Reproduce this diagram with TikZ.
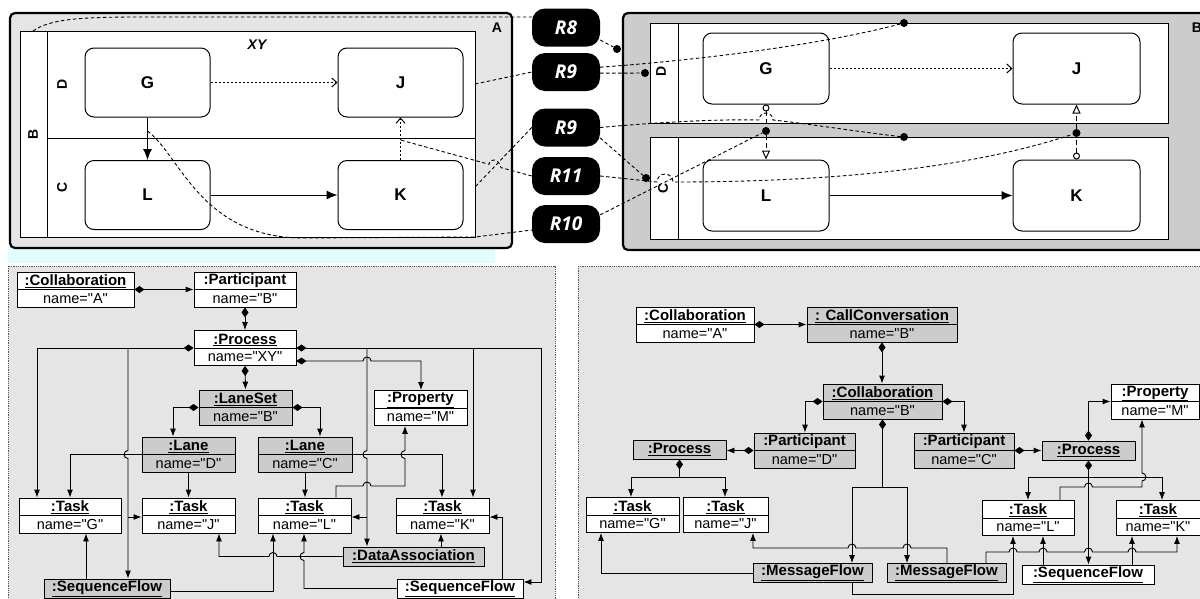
\documentclass[tikz,border=0pt]{standalone}
\usepackage{fontspec}
\setmainfont{Liberation Sans}[Ligatures=TeXOff]
\newfontfamily\rfont{Open Sans}
\usetikzlibrary{arrows.meta,calc}
\definecolor{poolA}{gray}{0.9}
\definecolor{poolB}{gray}{0.8}
\definecolor{og}{gray}{0.8}
\definecolor{panelbg}{gray}{0.9}
\definecolor{cy}{RGB}{224,252,252}
\tikzset{
  pool/.style={draw=black, line width=2.2pt, rounded corners=5pt},
  lane/.style={draw=black, line width=0.9pt, fill=white},
  ln/.style={line width=0.9pt},
  task/.style={draw, line width=1pt, rounded corners=9pt, fill=white, inner sep=0pt, font=\fontsize{17}{19}\selectfont\bfseries},
  rl/.style={fill=black, rounded corners=13pt, minimum width=68pt, minimum height=38pt, inner sep=0pt, text=white, font=\rfont\fontsize{19}{22}\selectfont\bfseries\itshape},
  lbl/.style={inner sep=0pt, font=\fontsize{14}{16}\selectfont\bfseries},
  dl/.style={dash pattern=on 3.5pt off 2.5pt, line width=0.9pt},
  dotn/.style={circle, fill=black, inner sep=0pt, minimum size=8pt},
  seqs/.style={line width=1pt, -{Latex[length=11pt,width=9pt]}},
  dotf/.style={dash pattern=on 2pt off 2pt, line width=1pt, -{Straight Barb[length=5pt,width=9pt]}},
  msg/.style={dash pattern=on 5pt off 3pt, line width=1pt, {Circle[open,length=7pt,width=7pt]}-{Triangle[open,length=9pt,width=8pt]}},
  comp/.style={line width=0.9pt, {Diamond[length=10pt,width=7pt]}-{Latex[length=8pt,width=6pt]}},
  dia/.style={line width=0.9pt, {Diamond[length=10pt,width=7pt]}-},
  arr/.style={line width=0.9pt, -{Latex[length=8pt,width=6pt]}},
  objbox/.style={draw, line width=0.9pt, minimum height=35pt, inner sep=0pt},
  sbox/.style={draw, line width=0.9pt, minimum height=19pt, inner sep=0pt, font=\fontsize{15}{17}\selectfont\bfseries},
  hdr/.style={inner sep=0pt, font=\fontsize{15}{17}\selectfont\bfseries},
  att/.style={inner sep=0pt, font=\fontsize{14.5}{17}\selectfont},
  panel/.style={fill=panelbg, draw=black!65, densely dotted, line width=0.8pt}
}
\newcommand\uobj[7]{%
  \node[objbox, fill=#5, minimum width=#4pt] (#1) at (#2,#3) {};
  \draw[ln] (#1.west) -- (#1.east);
  \node[hdr, yshift=8pt] (#1h) at (#1.center) {\underline{#6}};
  \node[att, yshift=-8.6pt] (#1a) at (#1.center) {#7};
}
\newcommand\sobj[6]{%
  \node[sbox, fill=#5, minimum width=#4pt] (#1) at (#2,#3) {\underline{#6}};
}
\newcommand\hopright[2]{-- ({#1-4},#2) arc[start angle=180,end angle=360,radius=4]}
\newcommand\hopleft[2]{-- ({#1+4},#2) arc[start angle=0,end angle=-180,radius=4]}
\newcommand\hopup[2]{-- (#1,{#2+4}) arc[start angle=90,end angle=270,radius=4]}
\newcommand\hopdown[2]{-- (#1,{#2-4}) arc[start angle=270,end angle=90,radius=4]}
\newcommand\hopupr[2]{-- (#1,{#2+4}) arc[start angle=90,end angle=-90,radius=4]}
\begin{document}
\begin{tikzpicture}[x=1pt,y=-1pt]
\useasboundingbox (0,0) rectangle (1200,598);
\clip (0,0) rectangle (1200,598);
\fill[white] (0,0) rectangle (1200,598);

% ================= TOP LEFT POOL =================
\fill[cy] (8,246) rectangle (495,263);
\draw[pool, fill=poolA] (10,13) rectangle (512,248);
\draw[lane] (20,31) rectangle (475,237);
\draw[ln] (47,31) -- (47,237);
\draw[ln] (47,138) -- (475,138);
\node[lbl, rotate=90] (bB) at (33,134) {B};
\node[lbl, rotate=90] (bD) at (62,84) {D};
\node[lbl, rotate=90] (bC) at (62,187) {C};
\node[inner sep=0pt, font=\fontsize{14}{16}\selectfont\bfseries\itshape] (xy) at (257,45) {XY};
\node[lbl] (pa) at (497,28) {A};
\node[task, minimum width=125pt, minimum height=69pt] (G1) at (147.5,82.5) {G};
\node[task, minimum width=125pt, minimum height=69pt] (J1) at (400.5,82.5) {J};
\node[task, minimum width=125pt, minimum height=69pt] (L1) at (147.5,195) {L};
\node[task, minimum width=125pt, minimum height=69pt] (K1) at (400.5,195) {K};
\draw[dotf] (G1) -- (J1);
\draw[seqs] (G1.south) -- (L1.north);
\draw[seqs] (L1) -- (K1);
\draw[dotf] (K1.north) -- (J1.south);

% ================= TOP RIGHT POOL =================
\draw[pool, fill=poolB] (623,13) rectangle (1215,250);
\draw[lane] (650,23) rectangle (1168,123);
\draw[ln] (678,23) -- (678,123);
\draw[lane] (650,137) rectangle (1168,239);
\draw[ln] (678,137) -- (678,239);
\node[lbl, rotate=90] (rD) at (661,71) {D};
\node[lbl, rotate=90] (rC) at (663,188) {C};
\node[lbl] (pb) at (1197,28) {B};
\node[task, minimum width=126pt, minimum height=71pt] (G2) at (766,68.5) {G};
\node[task, minimum width=127pt, minimum height=71pt] (J2) at (1076.5,68.5) {J};
\node[task, minimum width=126pt, minimum height=71pt] (L2) at (766,195.5) {L};
\node[task, minimum width=127pt, minimum height=71pt] (K2) at (1076.5,195.5) {K};
\draw[dotf] (G2) -- (J2);
\draw[seqs] (L2) -- (K2);
\draw[msg] (G2.south) -- (L2.north);
\draw[msg] (K2.north) -- (J2.south);

% ================= R LABELS =================
\node[rl] (R8) at (566,27.5) {R8};
\node[rl] (R9a) at (566,72) {R9};
\node[rl] (R9b) at (566,127.5) {R9};
\node[rl] (R11) at (566,176) {R11};
\node[rl] (R10) at (566,224) {R10};

\node[dotn] (d1) at (617,49) {};
\node[dotn] (d2) at (645,73) {};
\node[dotn] (d3) at (904,23) {};
\node[dotn] (d4) at (904,137) {};
\node[dotn] (d5) at (646,178) {};
\node[dotn] (d6) at (766,131) {};
\node[dotn] (d7) at (1076.5,133) {};

\coordinate (cB0) at (33,31);
\coordinate (cJ0) at (475,84);
\coordinate (cK0) at (475,187);
\coordinate (cKJ) at (400.5,140);
\coordinate (cGL) at (147.5,131);

\draw[dl] (cB0) .. controls (50,19) and (80,17) .. (140,17) -- (R8.west |- 0,17);
\draw[dl] (R8.-20) -- (d1);
\draw[dl] (cJ0) -- (R9a.west);
\draw[dl] (R9a.8) .. controls (700,60) and (820,45) .. (d3);
\draw[dl] (R9a.-2) -- (d2);
\draw[dl] (R9b.west) -- (cK0);
\draw[dl] (R9b.east) .. controls (660,122) and (720,119) .. (759,120) arc[start angle=180,end angle=360,radius=7] .. controls (810,124) and (860,132) .. (d4);
\draw[dl] (R9b.-17) -- (d5);
\draw[dl] (R11.west) -- (501,167.6) .. controls (499,159) and (490,157) .. (489,164.3) -- (cKJ);
\draw[dl] (R11.east) -- (657,182) arc[start angle=180,end angle=360,radius=8] .. controls (850,182) and (980,165) .. (d7);
\draw[dl] (cGL) .. controls (180,155) and (200,236) .. (300,238) -- (475,237) -- (R10.190);
\draw[dl] (R10.15) -- (d6);

% ================= BOTTOM LEFT PANEL =================
\draw[panel] (8,266) rectangle (555,610);
\uobj{cA}{75.5}{289.5}{117}{white}{:Collaboration}{name="A"}
\uobj{pB}{245}{289.5}{102}{white}{:Participant}{name="B"}
\uobj{proc}{245}{348}{102}{white}{:Process}{name="XY"}
\uobj{ls}{245.5}{407.5}{93}{og}{:LaneSet}{name="B"}
\uobj{lD}{188.5}{454.5}{93}{og}{:Lane}{name="D"}
\uobj{lC}{305}{454.5}{94}{og}{:Lane}{name="C"}
\uobj{prop}{420.5}{408}{93}{white}{:Property}{name="M"}
\uobj{tG}{70}{515.5}{102}{white}{:Task}{name="G"}
\uobj{tJ}{188.5}{515.5}{93}{white}{:Task}{name="J"}
\uobj{tL}{304.5}{515.5}{93}{white}{:Task}{name="L"}
\uobj{tK}{442.5}{515.5}{93}{white}{:Task}{name="K"}
\sobj{sf1}{107}{588.5}{126}{og}{:SequenceFlow}
\sobj{da}{413.5}{556.5}{141}{og}{:DataAssociation}
\sobj{sf2}{460}{588.5}{126}{white}{:SequenceFlow}

\draw[comp] (cA.east) -- (pB.west);
\draw[comp] (pB.south) -- (proc.north);
\draw[comp] (proc.south) -- (ls.north);
\draw[comp] (ls.west) -| (lD.north -| 173,0);
\draw[comp] (ls.east) -| (lC.north -| 320,0);
\draw[comp] (proc.west) -| (tG.north -| 37,0);
\draw[arr] (128,348) \hopdown{128}{454.5} -- (sf1.north -| 128,0);
\draw[arr] (128,517) -- (tJ.west |- 0,517);
\draw[arr] (lD.west) -| (tG.north -| 70,0);
\draw[arr] (lD.south) -- (tJ.north);
\draw[arr] (lC.south) -- (tL.north -| lC.south);
\draw[arr] (lC.east) -| (tK.north -| 442,0);
\draw[comp] (proc.east) -- (541,348) -- (541,582) -- (sf2.east |- 0,582);
\draw[arr] (367,348) \hopdown{367}{454.5} -- (da.north -| 367,0);
\draw[arr] (367,517) -- (tL.east |- 0,517);
\draw[arr] (473,348) -- (tK.north -| 473,0);
\draw[comp] (proc.east |- 0,361) \hopright{367}{361} -- (421,361) -- (prop.north -| 421,0);
\draw[arr] (tL.north -| 336,0) -- (336,486) \hopright{367}{486} -- (405,486) \hopup{405}{454.5} -- (prop.south -| 405,0);
\draw[arr] (sf1.north -| 86,0) -- (tG.south -| 86,0);
\draw[arr] (sf1.east |- 0,591) -- (273,591) -- (tL.south -| 273,0);
\draw[arr] (da.west) \hopleft{273}{556.5} -- (219,556.5) -- (tJ.south -| 219,0);
\draw[arr] (sf2.west) -- (304,588.5) \hopup{304}{556.5} -- (tL.south -| 304,0);
\draw[arr] (sf2.north -| 502,0) -- (502,517) -- (tK.east |- 0,517);
\draw[arr] (da.north -| 441,0) -- (tK.south -| 441,0);

% ================= BOTTOM RIGHT PANEL =================
\draw[panel] (578,266) rectangle (1210,610);
\uobj{cA2}{695}{324.5}{118}{white}{:Collaboration}{name="A"}
\uobj{cc}{882}{324.5}{150}{og}{: CallConversation}{name="B"}
\uobj{cB}{882.5}{401.5}{119}{og}{:Collaboration}{name="B"}
\uobj{pD}{804.5}{450.5}{101}{og}{:Participant}{name="D"}
\uobj{pC}{964}{450.5}{100}{og}{:Participant}{name="C"}
\sobj{procL}{679.5}{449.5}{93}{og}{:Process}
\sobj{procR}{1088.5}{450.5}{93}{og}{:Process}
\uobj{prop2}{1155}{401.5}{88}{white}{:Property}{name="M"}
\uobj{tG2}{632.5}{515}{93}{white}{:Task}{name="G"}
\uobj{tJ2}{725.5}{515}{85}{white}{:Task}{name="J"}
\uobj{tL2}{1028}{518}{92}{white}{:Task}{name="L"}
\uobj{tK2}{1158}{518}{84}{white}{:Task}{name="K"}
\sobj{mf1}{812.5}{573}{119}{og}{:MessageFlow}
\sobj{mf2}{946.5}{573}{119}{og}{:MessageFlow}
\sobj{sf3}{1088}{574.5}{132}{white}{:SequenceFlow}

\draw[comp] (cA2.east) -- (cc.west);
\draw[comp] (cc.south) -- (cB.north -| cc.south);
\draw[comp] (cB.west) -| (pD.north -| 805,0);
\draw[comp] (cB.east) -| (pC.north -| 964,0);
\draw[comp] (pD.west) -- (procL.east |- pD.west);
\draw[comp] (pC.east) -- (procR.west);
\draw[comp] (procR.north) |- (prop2.west);
\draw[comp] (procL.south) -- (procL.south |- 0,477) -| (tG2.north -| 631,0);
\draw[arr] (procL.south |- 0,477) -| (tJ2.north -| 725,0);
\draw[comp] (procR.south) -- (procR.south |- sf3.north);
\draw[arr] (procR.south |- 0,477) -| (tL2.north -| 1028,0);
\draw[arr] (procR.south |- 0,477) -| (tK2.north -| 1162,0);
\draw[arr] (tL2.north -| 1060,0) -- (1060,487) \hopright{1088.5}{487} -- (1142,487) \hopupr{1142}{477} -- (prop2.south -| 1142,0);
\draw[comp] (cB.south) |- (852,487) -- (mf1.north -| 852,0);
\draw[arr] (cB.south |- 0,487) -| (mf2.north -| 907,0);
\draw[arr] (mf1.west) -| (tG2.south -| 601,0);
\draw[arr] (mf1.south -| 852,0) -- (852,594) -| (tL2.south -| 1013,0);
\draw[arr] (mf2.north -| 947,0) -- (947,548) \hopleft{907}{548} \hopleft{852}{548} -- (753,548) -- (tJ2.south -| 753,0);
\draw[arr] (mf2.north -| 986,0) -- (986,552) \hopright{1013}{552} \hopright{1043}{552} \hopright{1088.5}{552} \hopright{1132}{552} -- (1177,552) -- (tK2.south -| 1177,0);
\draw[arr] (sf3.north -| 1043,0) -- (tL2.south -| 1043,0);
\draw[arr] (sf3.north -| 1132,0) -- (tK2.south -| 1132,0);
\end{tikzpicture}
\end{document}
